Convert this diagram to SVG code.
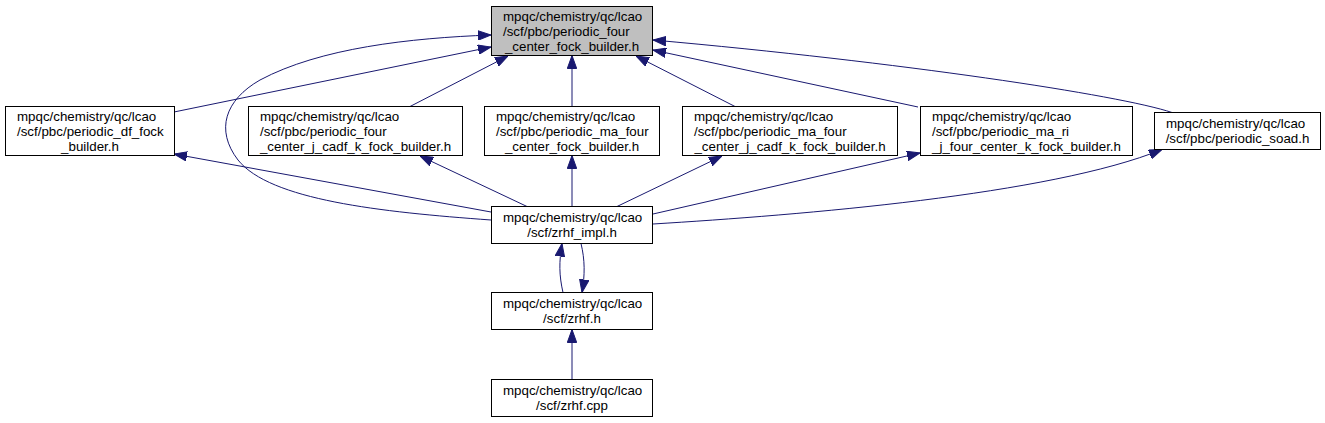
<svg xmlns="http://www.w3.org/2000/svg" width="1325" height="423" viewBox="0 0 1325 423">
<style>
.n rect{fill:#ffffff;stroke:#000000;stroke-width:1}
.n.root rect{fill:#bfbfbf}
.n text{font-family:"Liberation Sans",Arial,Helvetica,sans-serif;font-size:13.33px;fill:#000000}
.n text.c{text-anchor:middle}
.e path{fill:none;stroke:#191970;stroke-width:1;marker-end:url(#ah)}
</style>
<defs>
<marker id="ah" viewBox="0 0 13 10" refX="13" refY="5" markerWidth="13" markerHeight="10" markerUnits="userSpaceOnUse" orient="auto">
<path d="M0,0.3 L13,5 L0,9.7 z" fill="#191970" stroke="#191970" stroke-width="1"/>
</marker>
</defs>
<g id="edges" class="e">
<path d="M174,112 L491,47"/>
<path d="M410,106.5 L508,56"/>
<path d="M572,106.5 L572,55.5"/>
<path d="M735,106.5 L636,56"/>
<path d="M918,107 L653,50"/>
<path d="M1172,112.5 C1120,95 900,62 653,40"/>
<path d="M491,220 C380,212 270,200 238,160 C215,130 225,100 260,80 C320,48 410,38 491,35"/>
<path d="M491,212 L174,154"/>
<path d="M527,206.5 L420,156"/>
<path d="M572,206.5 L572,155.5"/>
<path d="M617,206.5 L722,156"/>
<path d="M653,214 L920,153"/>
<path d="M653,224 C800,215 1050,195 1162,149.5"/>
<path d="M563,292.5 C559,275 559,262 562,243.5"/>
<path d="M581,243.5 C585,260 585,275 582,292.5"/>
<path d="M572,379.5 L572,329.5"/>
</g>
<g id="node_top" class="n root">
<rect x="491.5" y="6.5" width="161" height="49"/>
<text x="503" y="20.5">mpqc/chemistry/qc/lcao</text>
<text x="503" y="35.5">/scf/pbc/periodic_four</text>
<text class="c" x="572" y="50.5">_center_fock_builder.h</text>
</g>
<g id="node_df" class="n">
<rect x="5.5" y="106.5" width="169" height="49"/>
<text x="17" y="120.5">mpqc/chemistry/qc/lcao</text>
<text x="17" y="135.5">/scf/pbc/periodic_df_fock</text>
<text class="c" x="90" y="150.5">_builder.h</text>
</g>
<g id="node_jcadf" class="n">
<rect x="248.5" y="106.5" width="214" height="49"/>
<text x="260" y="120.5">mpqc/chemistry/qc/lcao</text>
<text x="260" y="135.5">/scf/pbc/periodic_four</text>
<text class="c" x="355.5" y="150.5">_center_j_cadf_k_fock_builder.h</text>
</g>
<g id="node_mafour" class="n">
<rect x="484.5" y="106.5" width="175" height="49"/>
<text x="496" y="120.5">mpqc/chemistry/qc/lcao</text>
<text x="496" y="135.5">/scf/pbc/periodic_ma_four</text>
<text class="c" x="572" y="150.5">_center_fock_builder.h</text>
</g>
<g id="node_mafourjcadf" class="n">
<rect x="682.5" y="106.5" width="215" height="49"/>
<text x="694" y="120.5">mpqc/chemistry/qc/lcao</text>
<text x="694" y="135.5">/scf/pbc/periodic_ma_four</text>
<text class="c" x="790" y="150.5">_center_j_cadf_k_fock_builder.h</text>
</g>
<g id="node_mari" class="n">
<rect x="920.5" y="106.5" width="212" height="49"/>
<text x="932" y="120.5">mpqc/chemistry/qc/lcao</text>
<text x="932" y="135.5">/scf/pbc/periodic_ma_ri</text>
<text class="c" x="1026.5" y="150.5">_j_four_center_k_fock_builder.h</text>
</g>
<g id="node_soad" class="n">
<rect x="1154.5" y="112.5" width="166" height="37"/>
<text x="1166" y="128">mpqc/chemistry/qc/lcao</text>
<text class="c" x="1237.5" y="143">/scf/pbc/periodic_soad.h</text>
</g>
<g id="node_impl" class="n">
<rect x="491.5" y="206.5" width="161" height="37"/>
<text x="503" y="222">mpqc/chemistry/qc/lcao</text>
<text class="c" x="572" y="237">/scf/zrhf_impl.h</text>
</g>
<g id="node_zrhf" class="n">
<rect x="491.5" y="292.5" width="161" height="37"/>
<text x="503" y="308">mpqc/chemistry/qc/lcao</text>
<text class="c" x="572" y="323">/scf/zrhf.h</text>
</g>
<g id="node_cpp" class="n">
<rect x="491.5" y="379.5" width="161" height="37"/>
<text x="503" y="395">mpqc/chemistry/qc/lcao</text>
<text class="c" x="572" y="410">/scf/zrhf.cpp</text>
</g>
</svg>
